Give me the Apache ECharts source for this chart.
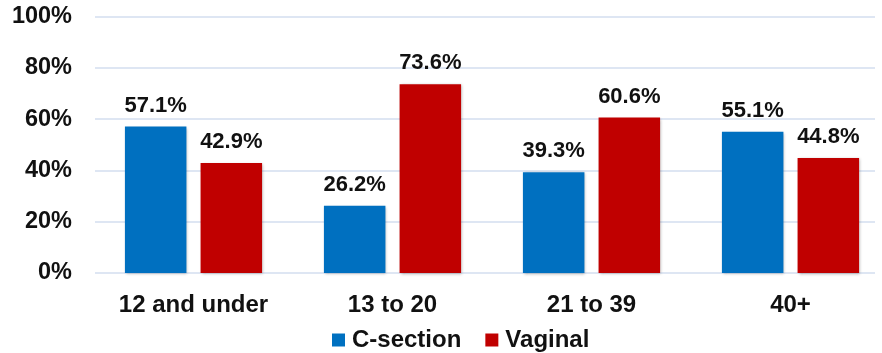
<!DOCTYPE html>
<html><head><meta charset="utf-8">
<script src="https://cdn.jsdelivr.net/npm/echarts@6/dist/echarts.min.js"></script>
<style>html,body{margin:0;padding:0;background:#fff}#c{width:882px;height:353px}</style>
</head><body><div id="c"></div>
<script>
const categories = ['12 and under', '13 to 20', '21 to 39', '40+'];
const cSection = [57.1, 26.2, 39.3, 55.1];
const vaginal = [42.9, 73.6, 60.6, 44.8];
const yTicks = [0, 20, 40, 60, 80, 100];

const chart = echarts.init(document.getElementById('c'));
const font = 'Liberation Sans, Arial, sans-serif';
const lbl = {show: true, position: 'top', distance: 10, fontFamily: font, fontWeight: 'bold', fontSize: 22, color: '#111',
  formatter: p => p.value.toFixed(1) + '%'};
const shadow = {shadowColor: 'rgba(0,0,0,0.3)', shadowBlur: 3, shadowOffsetX: 1, shadowOffsetY: 1};
chart.setOption({
  animation: false,
  grid: [
    {left: 95, right: 7, top: 16.5, bottom: 80, outerBoundsMode: 'none'},
    {left: 94, width: 796, top: 16.5, bottom: 80, outerBoundsMode: 'none'}
  ],
  legend: {top: 323, left: 327, itemWidth: 13, itemHeight: 13, itemGap: 24, icon: 'rect',
    textStyle: {fontFamily: font, fontWeight: 'bold', fontSize: 24, color: '#111', padding: [0, 0, 0, 2]},
    data: ['C-section', 'Vaginal']},
  xAxis: [
    {type: 'category', gridIndex: 0, data: categories, show: false},
    {type: 'category', gridIndex: 1, data: categories, axisTick: {show: false}, axisLine: {show: false},
      axisLabel: {fontFamily: font, fontWeight: 'bold', fontSize: 24, color: '#111', margin: 20}}
  ],
  yAxis: [
    {type: 'value', gridIndex: 0, min: 0, max: 100, interval: 20,
      axisLabel: {fontFamily: font, fontWeight: 'bold', fontSize: 23.5, color: '#111', margin: 23,
        formatter: v => yTicks.includes(v) ? v + '%' : ''},
      splitLine: {lineStyle: {color: '#D3DEEF', width: 1.5}}},
    {type: 'value', gridIndex: 1, min: 0, max: 100, interval: 20, show: false, splitLine: {show: false}}
  ],
  series: [
    {name: 'C-section', type: 'bar', xAxisIndex: 1, yAxisIndex: 1, data: cSection, barWidth: 61.5, barGap: '23%',
      itemStyle: Object.assign({color: '#0070C0'}, shadow), label: lbl},
    {name: 'Vaginal', type: 'bar', xAxisIndex: 1, yAxisIndex: 1, data: vaginal, barWidth: 61.5,
      itemStyle: Object.assign({color: '#C00000'}, shadow), label: lbl}
  ]
});
</script></body></html>
